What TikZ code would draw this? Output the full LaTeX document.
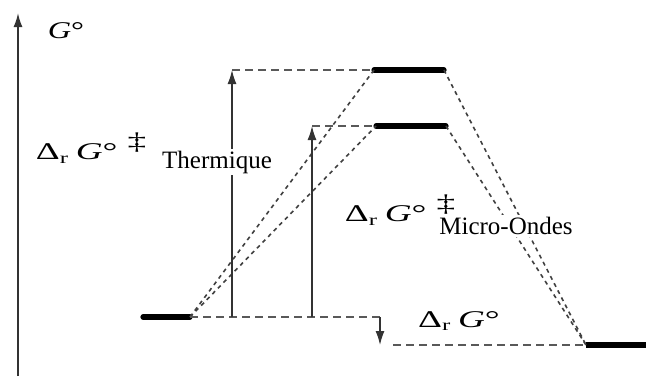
\documentclass[tikz,border=0pt]{standalone}
\usepackage{fontspec}
\setmainfont{Liberation Serif}
\newfontfamily\figfont{Liberation Serif}
\usetikzlibrary{arrows.meta}

% stretched energy labels
\newcommand{\wide}[1]{\scalebox{1.55}[1]{#1}}
\newcommand{\dGr}{\wide{Δ\textsubscript{r}\,\textit{G}°}}

\begin{document}
\begin{tikzpicture}[
    x=0.5pt, y=-0.5pt,
    level/.style={line width=2.6pt, line cap=round},
    guide/.style={dashed, dash pattern=on 4pt off 2.5pt, gray!70!black, line width=0.6pt},
    path/.style={dash pattern=on 2pt off 2pt, gray!50!black, line width=0.8pt},
    jump/.style={-{Latex[length=7pt, width=4.5pt]}, line width=0.7pt, black!80},
    label/.style={font=\figfont\fontsize{12}{14}\selectfont, inner sep=1pt},
    tag/.style={font=\figfont\fontsize{12.5}{14}\selectfont, fill=white, inner sep=1pt},
]
\useasboundingbox (0,0) rectangle (646,376);

% --- Energy axis ---
\coordinate (ax0) at (18,376);
\coordinate (ax1) at (18,13);
\draw[jump, line width=0.9pt] (ax0) -- (ax1);
\node[label] (gaxis) at (66,31) {\scalebox{1.35}[1]{\textit{G}°}};

% --- Levels ---
\coordinate (r1) at (143,317);
\coordinate (r2) at (190,317);
\coordinate (t1) at (374,70);
\coordinate (t2) at (444,70);
\coordinate (m1) at (376,126);
\coordinate (m2) at (446,126);
\coordinate (p1) at (586,345);
\coordinate (p2) at (646,345);
\draw[level] (r1) -- (r2);
\draw[level] (t1) -- (t2);
\draw[level] (m1) -- (m2);
\draw[level, line cap=butt] (p1) -- (p2);

% --- Reaction paths ---
\draw[path] (r2) -- (t1);
\draw[path] (r2) -- (m1);
\draw[path] (t2) -- (p1);
\draw[path] (m2) -- (p1);

% --- Guide lines ---
\coordinate (th0) at (232,317);
\coordinate (th1) at (232,70);
\coordinate (mo0) at (312,317);
\coordinate (mo1) at (312,126);
\coordinate (dg0) at (380,317);
\coordinate (dg1) at (380,345);
\coordinate (pg) at (393,345);
\draw[guide] (r2) -- (dg0);
\draw[guide] (th1) -- (t1);
\draw[guide] (mo1) -- (m1);
\draw[guide] (pg) -- (p1);

% --- Energy gaps ---
\draw[jump] (th0) -- (th1);
\draw[jump] (mo0) -- (mo1);
\draw[jump] (dg0) -- (dg1);

% --- Labels ---
\node[label] (dgth) at (91,148) {\dGr\hspace{5pt}\raisebox{5pt}{\wide{‡}}};
\node[tag] (lth) at (217,162) {Thermique};
\node[label] (dgmo) at (400,210) {\dGr\hspace{5pt}\raisebox{5pt}{\wide{‡}}};
\node[tag] (lmo) at (506,226) {Micro-Ondes};
\node[label] (dgr) at (459,321) {\dGr};

\end{tikzpicture}
\end{document}
